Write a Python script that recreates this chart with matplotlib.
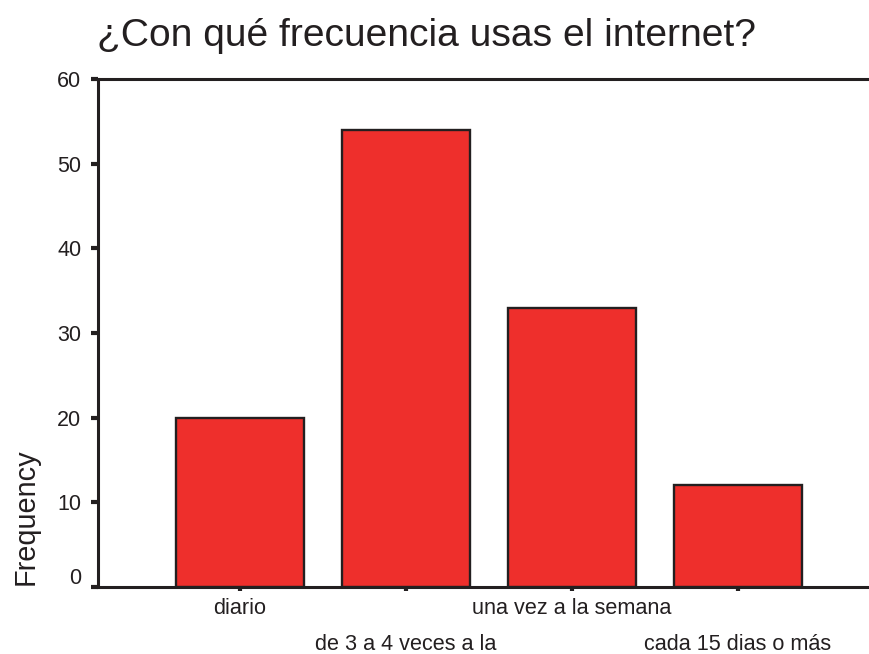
import matplotlib
matplotlib.use("Agg")
import matplotlib.pyplot as plt
from matplotlib.transforms import ScaledTranslation

plt.rcParams['font.family'] = ['Liberation Sans', 'DejaVu Sans']

categories = ["diario", "de 3 a 4 veces a la", "una vez a la semana", "cada 15 dias o más"]
frequency = [20, 54, 33, 12]
yticks = [0, 10, 20, 30, 40, 50, 60]
title = "¿Con qué frecuencia usas el internet?"
ylabel = "Frequency"

W, H = 869, 654
fig = plt.figure(figsize=(W / 100, H / 100), dpi=100)
ax = fig.add_axes([98 / W, 67 / H, (W - 98) / W, (587 - 79) / H])

x = list(range(len(categories)))
ax.bar(x, frequency, width=0.77, color="#EE2F2C", edgecolor="#231F20", linewidth=1.7, zorder=2)

ax.set_xlim(-0.855, 3.79)
ax.set_ylim(0, 60)
ax.set_yticks(yticks)
ax.set_yticklabels([str(v) for v in yticks], fontsize=15.5, color="#231F20")
ax.set_xticks(x)
ax.set_xticklabels(categories, fontsize=15.6, color="#231F20")

for s in ["left", "top", "bottom"]:
    ax.spines[s].set_linewidth(2.2)
    ax.spines[s].set_color("#231F20")
ax.spines["right"].set_visible(False)

ax.tick_params(axis="y", direction="out", length=5, width=3, color="#231F20", pad=7)
ax.tick_params(axis="x", direction="out", length=3, width=3, color="#231F20", pad=5)

# stagger category labels in two rows
for i, lab in enumerate(ax.get_xticklabels()):
    if i % 2 == 1:
        lab.set_transform(lab.get_transform() + ScaledTranslation(0, -0.355, fig.dpi_scale_trans))

# zero label lifted as in reference
ylabs = ax.get_yticklabels()
ylabs[0].set_transform(ylabs[0].get_transform() + ScaledTranslation(0, 0.11, fig.dpi_scale_trans))

fig.text(97 / W, 1 - 46 / H, title, fontsize=28.1, color="#231F20", ha="left", va="baseline")
fig.text(12 / W, 1 - 585 / H, ylabel, fontsize=20.8, color="#231F20", rotation=90,
         ha="left", va="bottom")

fig.savefig("out.png", dpi=100)
